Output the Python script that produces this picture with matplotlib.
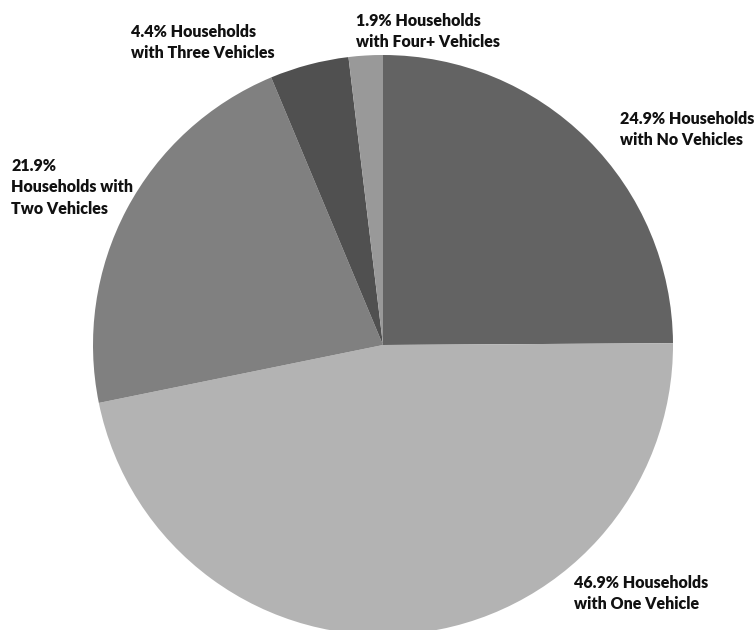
import matplotlib
matplotlib.use("Agg")
import matplotlib.pyplot as plt

categories = ["No Vehicles", "One Vehicle", "Two Vehicles", "Three Vehicles", "Four+ Vehicles"]
values = [24.9, 46.9, 21.9, 4.4, 1.9]
colors = ["#636363", "#b3b3b3", "#808080", "#505050", "#999999"]
labels = [
    "24.9% Households\nwith No Vehicles",
    "46.9% Households\nwith One Vehicle",
    "21.9%\nHouseholds with\nTwo Vehicles",
    "4.4% Households\nwith Three Vehicles",
    "1.9% Households\nwith Four+ Vehicles",
]
# label anchor (left x, top y) in pixel coordinates from the top-left
label_pos = [(620, 111), (574, 575), (11, 158), (131, 24), (356, 13)]

W, H = 755, 630
fig = plt.figure(figsize=(W / 100, H / 100), dpi=100)
ax = fig.add_axes([0, 0, 1, 1])

cx, cy, r = 383, H - 345, 290
ax.pie(values, colors=colors, startangle=90, counterclock=False,
       center=(cx, cy), radius=r, frame=True,
       wedgeprops=dict(linewidth=0))
ax.set_xlim(0, W)
ax.set_ylim(0, H)
ax.set_aspect("equal")
ax.axis("off")

for lab, (x, y) in zip(labels, label_pos):
    ax.text(x, H - y, lab, ha="left", va="top", fontsize=11.5,
            fontweight="heavy", family="Lato", linespacing=1.42, color="#111111")

fig.savefig("out.png", dpi=100)
